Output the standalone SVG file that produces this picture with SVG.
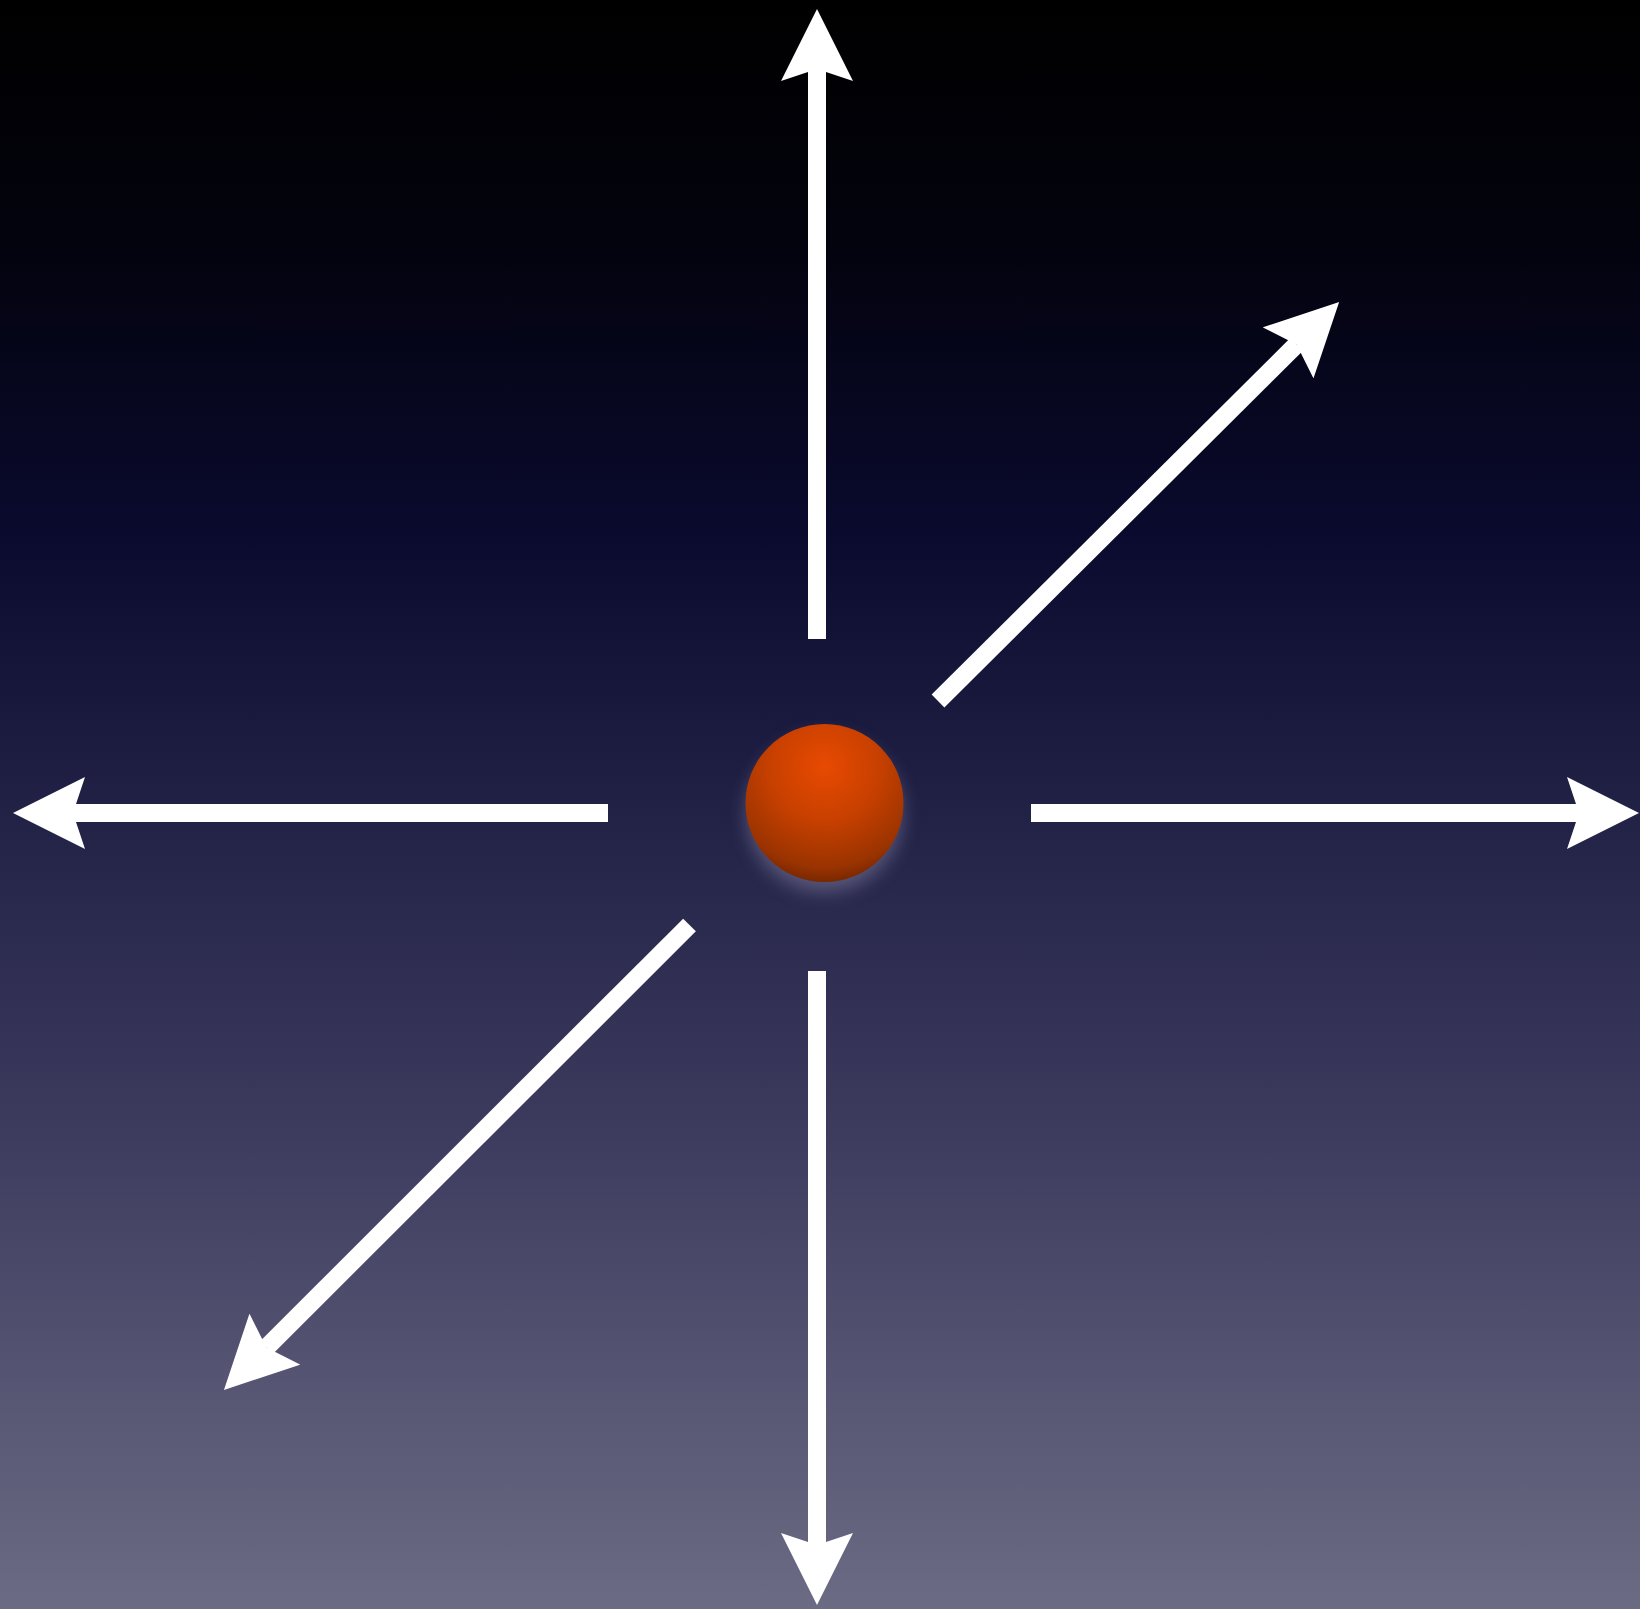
<svg xmlns="http://www.w3.org/2000/svg" width="1640" height="1609" viewBox="0 0 1640 1609">
<defs>
<linearGradient id="bg" x1="0" y1="0" x2="0" y2="1">
<stop offset="0" stop-color="#000000"/>
<stop offset="0.15" stop-color="#03030e"/>
<stop offset="0.33" stop-color="#0a0a2e"/>
<stop offset="0.5" stop-color="#212146"/>
<stop offset="0.7" stop-color="#3c3b5e"/>
<stop offset="1" stop-color="#6c6b84"/>
</linearGradient>
<radialGradient id="ball" cx="0.5" cy="0.27" r="0.85" fx="0.5" fy="0.27">
<stop offset="0" stop-color="#e84a02"/>
<stop offset="0.4" stop-color="#c84000"/>
<stop offset="0.75" stop-color="#9a3300"/>
<stop offset="1" stop-color="#4e1800"/>
</radialGradient>
<filter id="glow" x="-50%" y="-50%" width="200%" height="200%">
<feGaussianBlur stdDeviation="9"/>
</filter>
<marker id="head" markerUnits="userSpaceOnUse" markerWidth="72" markerHeight="72" viewBox="0 0 72 72" refX="12" refY="36" orient="auto">
<path d="M0,0 L72,36 L0,72 L12,36 Z" fill="#ffffff"/>
</marker>
<style>
.arrow { stroke: #ffffff; stroke-width: 18; fill: none; marker-end: url(#head); }
</style>
</defs>
<rect x="0" y="0" width="1640" height="1609" fill="url(#bg)"/>
<g id="connectors">
<line class="arrow" x1="817" y1="639" x2="817" y2="69"/>
<line class="arrow" x1="817" y1="971" x2="817" y2="1545"/>
<line class="arrow" x1="608" y1="813" x2="73" y2="813"/>
<line class="arrow" x1="1031" y1="813" x2="1579" y2="813"/>
<line class="arrow" x1="938" y1="701" x2="1296.6" y2="344.4"/>
<line class="arrow" x1="689.5" y1="925" x2="266.4" y2="1347.6"/>
</g>
<g id="particle">
<circle cx="824.5" cy="814" r="78" fill="#8886a6" opacity="0.5" filter="url(#glow)"/>
<circle cx="824.5" cy="803" r="79" fill="url(#ball)"/>
</g>
</svg>
